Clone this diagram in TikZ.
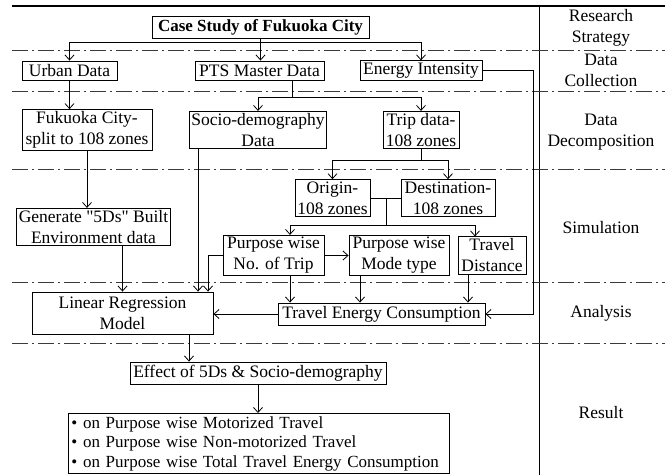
\documentclass[tikz,border=0pt]{standalone}
\usepackage{fontspec}
\setmainfont{Liberation Serif}
\usetikzlibrary{arrows.meta, calc, positioning}
\definecolor{sepgray}{HTML}{3a3a3a}

\begin{document}
\begin{tikzpicture}[x=1pt, y=-1pt,
                    >={Straight Barb[length=5pt,width=9pt]},
                    box/.style={draw, line width=0.9pt, inner sep=2pt, align=center},
                    link/.style={line width=0.8pt},
                    flow/.style={link, ->},
                    stage/.style={draw=sepgray, line width=0.8pt, dash pattern=on 16pt off 4pt on 2pt off 4pt},
                    stagelabel/.style={align=center}
                ]
                \tikzstyle{every node}=[font=\fontsize{17.5}{21}\selectfont]
                \useasboundingbox (0,0) rectangle (665,475);

                % frame and stage lines
                \draw[line width=1.2pt] (12,6) -- (665,6);
                \draw[line width=0.9pt] (539,6) -- (539,475);
                \foreach \y in {50,91,169,282,343}
                    \draw[stage] (12,\y) -- (665,\y);

                \node[stagelabel] (s1) at (601,27.5) {Research\\Strategy};
                \node[stagelabel] (s2) at (601,70) {Data\\Collection};
                \node[stagelabel] (s3) at (601,132) {Data\\Decomposition};
                \node[stagelabel] (s4) at (601,228) {Simulation};
                \node[stagelabel] (s5) at (601,313) {Analysis};
                \node[stagelabel] (s6) at (601,413) {Result};

                % boxes
                \node[box, font=\fontsize{17}{21}\selectfont\bfseries, minimum width=217pt, minimum height=22pt] (case) at (260.5,27) {Case Study of Fukuoka City};
                \node[box, minimum width=95pt, minimum height=19pt] (urban) at (69.5,70.5) {Urban Data};
                \node[box, minimum width=129pt, minimum height=19pt] (pts) at (259.5,70.5) {PTS Master Data};
                \node[box, minimum width=122pt, minimum height=19pt] (energy) at (421,70.5) {Energy Intensity};
                \node[box, minimum width=130pt] (fukuoka) at (87,130) {Fukuoka City-\\split to 108 zones};
                \node[box, minimum width=134pt] (socio) at (258,130) {Socio-demography\\Data};
                \node[box, minimum width=76pt] (trip) at (421,130) {Trip data-\\108 zones};
                \node[box, minimum width=75pt] (origin) at (332.5,198) {Origin-\\108 zones};
                \node[box, minimum width=94pt] (dest) at (448,198) {Destination-\\108 zones};
                \node[box, minimum width=143pt] (generate) at (93.5,227) {Generate \textquotedbl5Ds\textquotedbl{} Built\\Environment data};
                \node[box, minimum width=101pt] (ntrip) at (273.5,255.5) {Purpose wise\\No. of Trip};
                \node[box, minimum width=100pt] (mode) at (399,255.5) {Purpose wise\\Mode type};
                \node[box, minimum width=68pt] (dist) at (492,255.5) {Travel\\Distance};
                \node[box, minimum width=181pt, minimum height=42pt] (linreg) at (122.5,313) {Linear Regression\\Model};
                \node[box, minimum width=207pt, minimum height=22pt] (tec) at (381.5,314) {Travel Energy Consumption};
                \node[box, minimum width=256pt, minimum height=22pt] (effect) at (258,373) {Effect of 5Ds \& Socio-demography};
                \node[box, anchor=north west, text width=375pt, align=left, inner sep=3pt, font=\fontsize{17}{19.5}\selectfont] (result) at (68,413)
                    {\textbullet{} on Purpose wise Motorized Travel\\
                     \textbullet{} on Purpose wise Non-motorized Travel\\
                     \textbullet{} on Purpose wise Total Travel Energy Consumption};

                % helper points
                \coordinate (bus) at (0,42);
                \coordinate (pb) at (292,97);
                \coordinate (eb) at (533,0);
                \coordinate (tb) at (0,160);
                \coordinate (od) at (386,225);
                \coordinate (c1) at (198,0);
                \coordinate (c2) at (208,0);
                \coordinate (k1) at (290,0);
                \coordinate (k2) at (360,0);
                \coordinate (k3) at (468,0);
                \coordinate (k4) at (475,0);
                \coordinate (k5) at (189,0);

                % collection
                \draw[flow] (case.south) -- (case.south |- bus) -| (urban.north);
                \draw[flow] (case.south |- bus) -| (energy.north);
                \draw[flow] (case.south) -- (case.south |- pts.north);
                \draw[flow] (energy.east) -- (energy.east -| eb) |- (tec.east);

                % decomposition
                \draw[flow] (urban.south) -- (urban.south |- fukuoka.north);
                \draw[link] (pb |- pts.south) -- (pb);
                \draw[flow] (pb) -| (socio.north);
                \draw[flow] (pb) -| (trip.north);
                \draw[flow] (fukuoka.south) -- (fukuoka.south |- generate.north);

                % simulation
                \draw[link] (trip.south) -- (trip.south |- tb);
                \draw[flow] (trip.south |- tb) -| (origin.north);
                \draw[flow] (trip.south |- tb) -| (dest.north);
                \draw[link] (origin.east) -- (dest.west);
                \draw[link] (od |- origin.east) -- (od);
                \draw[flow] (od) -| (k1 |- ntrip.north);
                \draw[flow] (od) -| (k4 |- dist.north);
                \draw[flow] (ntrip.east) -- (mode.west);

                % analysis
                \draw[flow] (ntrip.west) -| (c2 |- linreg.north);
                \draw[flow] (c1 |- socio.south) -- (c1 |- linreg.north);
                \draw[flow] (linreg.north |- generate.south) -- (linreg.north);
                \draw[flow] (k1 |- ntrip.south) -- (k1 |- tec.north);
                \draw[flow] (k2 |- mode.south) -- (k2 |- tec.north);
                \draw[flow] (k3 |- dist.south) -- (k3 |- tec.north);
                \draw[flow] (tec.west) -- (tec.west -| linreg.east);

                % result
                \draw[flow] (k5 |- linreg.south) -- (k5 |- effect.north);
                \draw[flow] (effect.south) -- (effect.south |- result.north);
\end{tikzpicture}
\end{document}
